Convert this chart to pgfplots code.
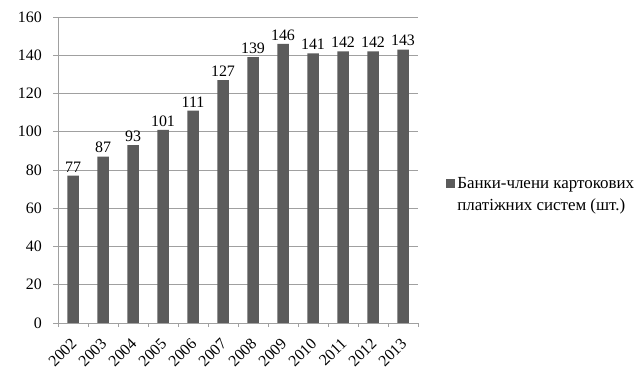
\documentclass[border=0pt]{standalone}
\usepackage{fontspec}
\setmainfont{Liberation Serif}
\usepackage{pgfplots}
\pgfplotsset{compat=1.18}
\definecolor{barcol}{HTML}{5B5B5B}
\definecolor{gridcol}{HTML}{A0A0A0}
\begin{document}
\begin{tikzpicture}
\begin{axis}[
  at={(58bp,46bp)}, anchor=south west,
  scale only axis, width=360bp, height=306bp,
  xmin=-0.5, xmax=11.5, ymin=0, ymax=160,
  ytick={0,20,...,160},
  xtick={0,...,11},
  xticklabels={2002,2003,2004,2005,2006,2007,2008,2009,2010,2011,2012,2013},
  minor xtick={-0.5,0.5,...,11.5},
  major x tick style={draw=none},
  minor tick length=4bp,
  major tick length=5bp,
  tick align=outside,
  tick style={gridcol, line width=0.8bp},
  ymajorgrids, grid style={gridcol, line width=0.8bp},
  axis x line*=bottom, axis y line*=left,
  axis line style={gridcol, line width=0.8bp, -},
  /pgf/number format/assume math mode=true,
  tick label style={font=\fontsize{16}{18}\selectfont, text=black},
  yticklabel style={inner sep=0pt, xshift=-11bp},
  xticklabel style={xshift=-3bp, yshift=-9bp, rotate=45, anchor=north east, inner sep=0pt},
  ybar, bar width=11.5bp,
  nodes near coords,
  nodes near coords style={font=\fontsize{16}{18}\selectfont, text=black, yshift=0bp},
  legend style={draw=none, at={(rel axis cs:1.078,0.42)}, anchor=west,
    font=\fontsize{17}{22}\selectfont, nodes={align=left, inner sep=0pt}, inner sep=0pt},
  legend cell align=left,
  legend image code/.code={\path[draw=none,fill=none] (0bp,-22bp) rectangle (11bp,22bp);
    \fill[barcol] (0bp,6bp) rectangle (9bp,15bp);},
]
\addplot[fill=barcol, draw=none] coordinates {
(0,77) (1,87) (2,93) (3,101) (4,111) (5,127) (6,139) (7,146) (8,141) (9,142) (10,142) (11,143)};
\addlegendentry{Банки-члени картокових\\платіжних систем (шт.)}
\end{axis}
\pgfresetboundingbox
\path (0,0) rectangle (634bp,369bp);
\end{tikzpicture}
\end{document}
